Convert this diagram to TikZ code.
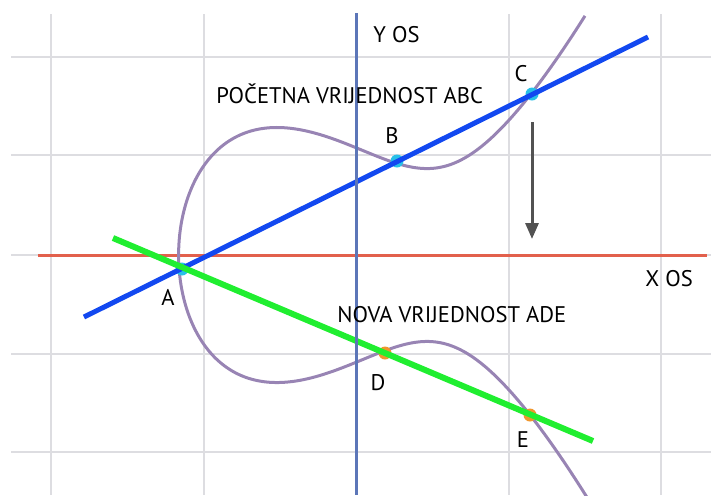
\documentclass[tikz,border=0pt]{standalone}
\usepackage{fontspec}
\setmainfont{PT Sans}
\usetikzlibrary{arrows.meta}

\definecolor{gridgray}{RGB}{221,221,225}
\definecolor{yaxisblue}{RGB}{92,118,184}
\definecolor{xaxisred}{RGB}{226,96,76}
\definecolor{curvepurple}{RGB}{152,132,180}
\definecolor{abcblue}{RGB}{18,72,240}
\definecolor{adegreen}{RGB}{32,238,48}
\definecolor{dotcyan}{RGB}{40,192,232}
\definecolor{dotorange}{RGB}{240,150,44}
\definecolor{arrowgray}{RGB}{82,82,82}

\begin{document}
\begin{tikzpicture}[x=0.5pt, y=-0.5pt,
  gridline/.style={gridgray, line width=0.75pt},
  curve/.style={curvepurple, line width=1.5pt},
  txt/.style={font=\fontsize{11.3}{13}\selectfont, inner sep=0pt, anchor=base west},
  ptlabel/.style={font=\fontsize{11.3}{13}\selectfont, inner sep=0pt, anchor=base},
  ptdot/.style={circle, inner sep=0pt, minimum size=6.5pt, fill=#1},
  declare function={ecu(\q)=(\q*\q-176.4)/100;
                    ecf(\t)=0.52*\t*\t*\t+0.0473*\t*\t-0.877*\t+1.16;}]
\useasboundingbox (0,0) rectangle (711,495);
% grid
\foreach \gx in {51,204,356,509,661}
  \draw[gridline] (\gx,14) -- (\gx,495);
\foreach \gy in {57,155,255,354,452}
  \draw[gridline] (11,\gy) -- (711,\gy);
% x axis
\coordinate (xL) at (38,255);
\coordinate (xR) at (707,255);
\draw[xaxisred, line width=1.5pt] (xL) -- (xR);
% curve
\draw[curve] plot[variable=\s, domain=-20.3:20.16, samples=241, smooth]
  ({178.6+\s*\s}, {255-sign(\s)*100*sqrt(max(0,ecf(ecu(\s))))});
% points
\node[ptdot=dotcyan] (A) at (182,269) {};
\node[ptdot=dotcyan] (B) at (397,161) {};
\node[ptdot=dotcyan] (C) at (532,94) {};
\node[ptdot=dotorange] (D) at (385,353) {};
\node[ptdot=dotorange] (E) at (530,415) {};
% line ABC
\coordinate (abcL) at (84,317);
\coordinate (abcR) at (648,37);
\draw[abcblue, line width=2.5pt] (abcL) -- (abcR);
% line ADE
\coordinate (adeL) at (113,238);
\coordinate (adeR) at (593,441);
\draw[adegreen, line width=3pt] (adeL) -- (adeR);
% y axis
\coordinate (yT) at (356,13);
\coordinate (yB) at (356,495);
\draw[yaxisblue, line width=1.5pt] (yT) -- (yB);
% arrow
\coordinate (shiftTop) at (532,122);
\coordinate (shiftBot) at (532,239);
\draw[arrowgray, line width=1.5pt, -{Triangle[length=8pt,width=6.5pt]}] (shiftTop) -- (shiftBot);
% labels
\node[txt] (yname) at (373,42) {Y OS};
\node[txt] (xname) at (645,286) {X OS};
\node[txt] (abcname) at (216,103) {POČETNA VRIJEDNOST ABC};
\node[txt] (adename) at (337,322) {NOVA VRIJEDNOST ADE};
\node[ptlabel] (labA) at (168,305) {A};
\node[ptlabel] (labB) at (392,143) {B};
\node[ptlabel] (labC) at (521,81) {C};
\node[ptlabel] (labD) at (378,390) {D};
\node[ptlabel] (labE) at (523,447) {E};
\end{tikzpicture}
\end{document}
